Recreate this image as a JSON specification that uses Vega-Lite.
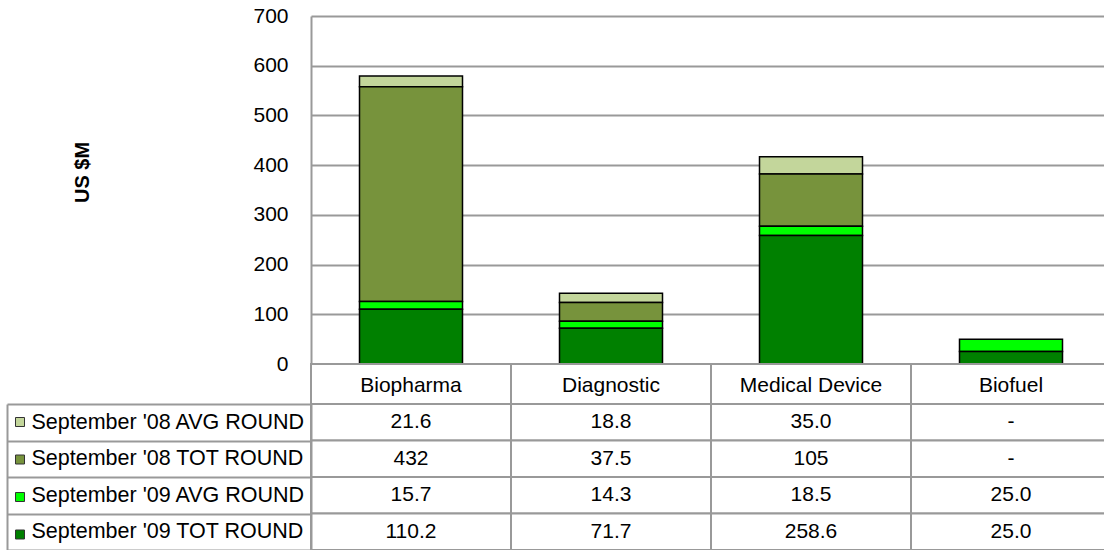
{
  "$schema": "https://vega.github.io/schema/vega-lite/v6.json",
  "padding": {"left": 6, "top": 5, "right": 0, "bottom": 0},
  "bounds": "flush",
  "spacing": 0,
  "config": {
    "font": "Liberation Sans",
    "view": {"stroke": null},
    "text": {"font": "Liberation Sans"}
  },
  "datasets": {
    "rounds": [
      {"category": "Biopharma", "series": "September '08 AVG ROUND", "value": 21.6, "label": "21.6"},
      {"category": "Biopharma", "series": "September '08 TOT ROUND", "value": 432, "label": "432"},
      {"category": "Biopharma", "series": "September '09 AVG ROUND", "value": 15.7, "label": "15.7"},
      {"category": "Biopharma", "series": "September '09 TOT ROUND", "value": 110.2, "label": "110.2"},
      {"category": "Diagnostic", "series": "September '08 AVG ROUND", "value": 18.8, "label": "18.8"},
      {"category": "Diagnostic", "series": "September '08 TOT ROUND", "value": 37.5, "label": "37.5"},
      {"category": "Diagnostic", "series": "September '09 AVG ROUND", "value": 14.3, "label": "14.3"},
      {"category": "Diagnostic", "series": "September '09 TOT ROUND", "value": 71.7, "label": "71.7"},
      {"category": "Medical Device", "series": "September '08 AVG ROUND", "value": 35.0, "label": "35.0"},
      {"category": "Medical Device", "series": "September '08 TOT ROUND", "value": 105, "label": "105"},
      {"category": "Medical Device", "series": "September '09 AVG ROUND", "value": 18.5, "label": "18.5"},
      {"category": "Medical Device", "series": "September '09 TOT ROUND", "value": 258.6, "label": "258.6"},
      {"category": "Biofuel", "series": "September '08 AVG ROUND", "value": null, "label": "-"},
      {"category": "Biofuel", "series": "September '08 TOT ROUND", "value": null, "label": "-"},
      {"category": "Biofuel", "series": "September '09 AVG ROUND", "value": 25.0, "label": "25.0"},
      {"category": "Biofuel", "series": "September '09 TOT ROUND", "value": 25.0, "label": "25.0"}
    ]
  },
  "vconcat": [
    {
      "width": 800,
      "height": 348,
      "data": {"name": "rounds"},
      "mark": {"type": "bar", "stroke": "black", "strokeWidth": 1.5},
      "encoding": {
        "x": {
          "field": "category",
          "type": "nominal",
          "sort": ["Biopharma", "Diagnostic", "Medical Device", "Biofuel"],
          "scale": {"paddingInner": 0.485, "paddingOuter": 0.2425},
          "axis": {"labels": false, "ticks": false, "title": null, "domainColor": "#999999", "domainWidth": 3, "zindex": 1}
        },
        "y": {
          "field": "value",
          "type": "quantitative",
          "stack": "zero",
          "scale": {"domain": [0, 700], "nice": false},
          "axis": {
            "values": [0, 100, 200, 300, 400, 500, 600, 700],
            "title": "US $M",
            "titleFontSize": 20,
            "titleFontWeight": "bold",
            "titleColor": "black",
            "titleX": -229,
            "titleY": 156,
            "titleAngle": -90,
            "titleAlign": "center",
            "titleBaseline": "middle",
            "labelFontSize": 21,
            "labelColor": "black",
            "labelPadding": 23,
            "ticks": false,
            "domainColor": "#999999",
            "domainWidth": 2,
            "gridColor": "#999999",
            "gridWidth": 2,
            "gridOpacity": 1
          }
        },
        "color": {
          "field": "series",
          "type": "nominal",
          "scale": {
            "domain": ["September '08 AVG ROUND", "September '08 TOT ROUND", "September '09 AVG ROUND", "September '09 TOT ROUND"],
            "range": ["#C3D69B", "#77933C", "#00FF00", "#008000"]
          },
          "legend": {
            "orient": "none",
            "legendX": -296,
            "legendY": 401,
            "title": null,
            "padding": 0,
            "symbolType": "square",
            "symbolSize": 81,
            "symbolStrokeColor": "#333333",
            "symbolStrokeWidth": 1,
            "symbolOpacity": 1,
            "labelExpr": "''",
            "labelFontSize": 1,
            "labelOffset": 0,
            "rowPadding": 23.5
          }
        },
        "order": {"field": "series", "sort": "descending"}
      }
    },
    {
      "width": 800,
      "height": 40,
      "data": {"name": "rounds"},
      "transform": [{"filter": "datum.series === \"September '09 TOT ROUND\""}],
      "encoding": {
        "x": {
          "field": "category",
          "type": "nominal",
          "sort": ["Biopharma", "Diagnostic", "Medical Device", "Biofuel"],
          "scale": {"padding": 0},
          "axis": null
        }
      },
      "layer": [
        {"mark": {"type": "rect", "fill": "white", "stroke": "#999999", "strokeWidth": 2}},
        {
          "mark": {"type": "text", "fontSize": 21, "dy": 2, "color": "black"},
          "encoding": {"text": {"field": "category"}}
        }
      ]
    },
    {
      "width": 800,
      "height": 146,
      "data": {"name": "rounds"},
      "encoding": {
        "x": {
          "field": "category",
          "type": "nominal",
          "sort": ["Biopharma", "Diagnostic", "Medical Device", "Biofuel"],
          "scale": {"padding": 0},
          "axis": null
        }
      },
      "layer": [
        {
          "mark": {"type": "rect", "fill": "white", "stroke": "#999999", "strokeWidth": 2},
          "encoding": {
            "y": {
              "field": "series",
              "type": "nominal",
              "sort": ["September '08 AVG ROUND", "September '08 TOT ROUND", "September '09 AVG ROUND", "September '09 TOT ROUND"],
              "scale": {"padding": 0},
              "axis": {
                "title": null,
                "labelFontSize": 21.5,
                "labelColor": "black",
                "labelAlign": "left",
                "labelPadding": -24,
                "labelLimit": 400,
                "tickBand": "extent",
                "tickSize": 304,
                "tickColor": "#999999",
                "tickWidth": 2,
                "domainColor": "#999999",
                "domainWidth": 2,
                "grid": false
              }
            }
          }
        },
        {
          "mark": {"type": "text", "fontSize": 21, "color": "black"},
          "encoding": {
            "text": {"field": "label"},
            "y": {
              "field": "series",
              "type": "nominal",
              "sort": ["September '08 AVG ROUND", "September '08 TOT ROUND", "September '09 AVG ROUND", "September '09 TOT ROUND"],
              "scale": {"padding": 0},
              "axis": {
                "orient": "left",
                "offset": 304,
                "labels": false,
                "ticks": false,
                "grid": false,
                "title": null,
                "domainColor": "#999999",
                "domainWidth": 2
              }
            }
          }
        }
      ],
      "resolve": {"axis": {"y": "independent"}}
    }
  ],
  "resolve": {"scale": {"x": "independent", "y": "independent", "color": "independent"}}
}
